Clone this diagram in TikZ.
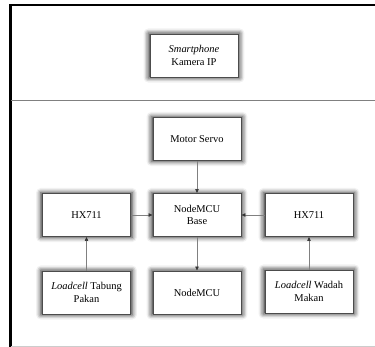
\documentclass[tikz,border=0pt]{standalone}
\usepackage{fontspec}
\setmainfont{Liberation Serif}
\usetikzlibrary{arrows.meta,shadows.blur}

\tikzset{
  blok/.style={draw=gray!60!black,line width=1pt,fill=white,align=center,
    minimum width=88bp,minimum height=43bp,inner sep=2pt,font=\fontsize{10.5}{12.5}\selectfont,
    blur shadow={shadow xshift=0pt,shadow yshift=0pt,shadow scale=1.04,shadow blur radius=4.5bp,shadow opacity=85}},
  panah/.style={draw=gray,line width=0.6pt,-{Triangle[length=4pt,width=3.5pt,color=black!80]}}
}

\begin{document}
\begin{tikzpicture}[x=1bp,y=-1bp]
		\useasboundingbox (0,0) rectangle (375,347);
		% bingkai
		\draw [line width=1.6pt] (10,5)-- (375,5);
		\draw [line width=2.4pt] (10.5,4.3)-- (10.5,347);
		\draw [line width=1pt,gray] (11,100)-- (375,100);
		\draw [line width=0.6pt,gray!40] (11,346)-- (375,346);
		% blok
		\node [blok] (cam) at (194,55.5) {\textit{Smartphone}\\Kamera IP};
		\node [blok] (servo) at (197,139) {Motor Servo};
		\node [blok] (hxkiri) at (86.5,215) {HX711};
		\node [blok] (base) at (197,215) {NodeMCU\\Base};
		\node [blok] (hxkanan) at (309,215) {HX711};
		\node [blok] (lctabung) at (86.5,292.5) {\textit{Loadcell} Tabung\\Pakan};
		\node [blok] (mcu) at (197,292.5) {NodeMCU};
		\node [blok] (lcwadah) at (309,291.5) {\textit{Loadcell} Wadah\\Makan};
		% panah
		\draw [panah] (servo)-- (base);
		\draw [panah] (hxkiri)-- (base);
		\draw [panah] (hxkanan)-- (base);
		\draw [panah] (base)-- (mcu);
		\draw [panah] (lctabung)-- (hxkiri);
		\draw [panah] (lcwadah)-- (hxkanan);
		\end{tikzpicture}
\end{document}
